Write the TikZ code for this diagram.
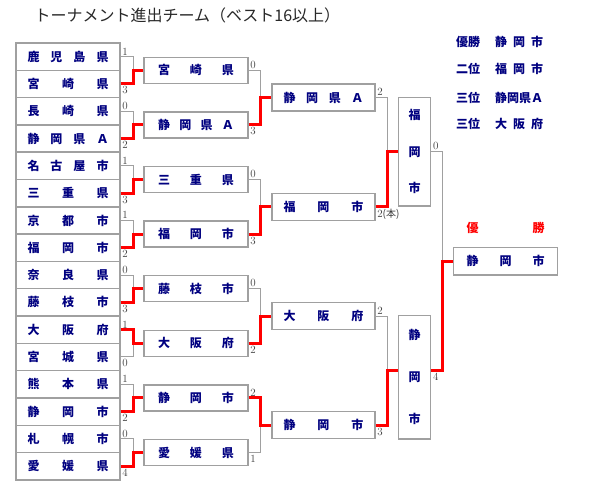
\documentclass[tikz,border=0pt]{standalone}
\usepackage{fontspec}
\newfontfamily\jp{Noto Sans CJK JP}
\definecolor{navy}{RGB}{0,0,128}
\definecolor{boxgray}{RGB}{160,160,160}
\definecolor{scoregray}{RGB}{60,60,60}
\definecolor{titlegray}{RGB}{40,40,40}
\newcommand\spr[2]{\hbox to #1{#2}}
\tikzset{
  namefont/.style={font=\jp\bfseries\fontsize{12}{12}\selectfont, text=navy},
  teambox/.style={draw=boxgray, line width=1.4pt, inner sep=0pt, namefont,
    minimum width=104pt, minimum height=27.3pt},
  r2box/.style={teambox, minimum width=104pt, minimum height=26pt},
  r3box/.style={teambox, minimum width=103pt, minimum height=27pt},
  conn/.style={draw=boxgray, line width=1pt},
  win/.style={draw=red, line width=3pt},
  score/.style={font=\fontsize{11}{11}\selectfont, text=scoregray, inner sep=0.6pt},
}
\begin{document}
\begin{tikzpicture}[x=1pt, y=-1pt]
\useasboundingbox (0,0) rectangle (600,500);
\fill[white] (0,0) rectangle (600,500);

% title
\node[anchor=west, font=\jp\fontsize{16}{16}\selectfont, text=titlegray] (title) at (31,15)
  {トーナメント進出チーム（ベスト16以上）};

% round 1
\foreach \n [count=\i from 0] in {
  {鹿\hfil 児\hfil 島\hfil 県},{宮\hfil 崎\hfil 県},{長\hfil 崎\hfil 県},{静\hfil 岡\hfil 県\hfil Ａ},
  {名\hfil 古\hfil 屋\hfil 市},{三\hfil 重\hfil 県},{京\hfil 都\hfil 市},{福\hfil 岡\hfil 市},
  {奈\hfil 良\hfil 県},{藤\hfil 枝\hfil 市},{大\hfil 阪\hfil 府},{宮\hfil 城\hfil 県},
  {熊\hfil 本\hfil 県},{静\hfil 岡\hfil 市},{札\hfil 幌\hfil 市},{愛\hfil 媛\hfil 県}}
  \node[teambox] (t\i) at (68,{43+27.3*(\i+0.5)}) {\spr{81pt}{\n}};

% round 2
\foreach \n [count=\i from 0] in {
  {宮\hfil 崎\hfil 県},{静\hfil 岡\hfil 県\hfil Ａ},{三\hfil 重\hfil 県},{福\hfil 岡\hfil 市},
  {藤\hfil 枝\hfil 市},{大\hfil 阪\hfil 府},{静\hfil 岡\hfil 市},{愛\hfil 媛\hfil 県}}
  \node[r2box] (r\i) at (196,{70.3+54.6*\i}) {\spr{76pt}{\n}};

% round 3
\foreach \n [count=\i from 0] in {
  {静\hfil 岡\hfil 県\hfil Ａ},{福\hfil 岡\hfil 市},{大\hfil 阪\hfil 府},{静\hfil 岡\hfil 市}}
  \node[r3box] (q\i) at (323.5,{97.6+109.2*\i}) {\spr{80pt}{\n}};

% semifinals
\node[draw=boxgray, line width=1.4pt, inner sep=0pt, minimum width=32.4pt, minimum height=108.7pt,
  align=center, font=\jp\bfseries\fontsize{12}{36.5}\selectfont, text=navy]
  (s1) at (414.5,151.7) {福\\岡\\市};
\node[draw=boxgray, line width=1.4pt, inner sep=0pt, minimum width=32.4pt, minimum height=123.3pt,
  align=center, font=\jp\bfseries\fontsize{12}{42}\selectfont, text=navy]
  (s2) at (414.5,377.3) {静\\岡\\市};
\coordinate (m2) at (0,370.6);

% final
\node[teambox, minimum width=104.4pt] (f) at (505.5,261.3) {\spr{78pt}{静\hfil 岡\hfil 市}};
\node[font=\jp\bfseries\fontsize{12}{12}\selectfont, text=red] (champ) at (505.5,228)
  {\spr{78pt}{優\hfil 勝}};

% legend
\foreach \l/\n/\y [count=\i] in {
  {優勝}/{静\hfil 岡\hfil 市}/41.7, {二位}/{福\hfil 岡\hfil 市}/69.3,
  {三位}/{静岡県Ａ}/98.3, {三位}/{大\hfil 阪\hfil 府}/124}{
  \node[anchor=west, namefont, inner sep=0pt] (lg\i) at (456,\y) {\l};
  \node[anchor=west, namefont, inner sep=0pt] (ln\i) at (495,\y) {\spr{48pt}{\n}};
}

% round 1 -> round 2
\foreach \a/\b/\r/\w/\sa/\sb in {0/1/0/1/1/3, 2/3/1/3/0/2, 4/5/2/5/1/3, 6/7/3/7/1/2,
  8/9/4/9/0/3, 10/11/5/10/1/0, 12/13/6/13/1/2, 14/15/7/15/0/4}{
  \draw[conn] (t\a.east) -- ++(13,0) |- (r\r.west);
  \draw[conn] (t\b.east) -- ++(13,0) |- (r\r.west);
  \draw[win] (t\w.east) -- ++(13,0) |- (r\r.west);
  \node[score, anchor=south west] at ([xshift=0.8pt,yshift=0.8pt]t\a.east) {\sa};
  \node[score, anchor=north west] at ([xshift=0.8pt,yshift=-1.8pt]t\b.east) {\sb};
}

% round 2 -> round 3
\foreach \a/\b/\r/\w/\sa/\sb in {0/1/0/1/0/3, 2/3/1/3/0/3, 4/5/2/5/0/2, 6/7/3/6/2/1}{
  \draw[conn] (r\a.east) -- ++(12,0) |- (q\r.west);
  \draw[conn] (r\b.east) -- ++(12,0) |- (q\r.west);
  \draw[win] (r\w.east) -- ++(12,0) |- (q\r.west);
  \node[score, anchor=south west] at ([xshift=0.8pt,yshift=0.8pt]r\a.east) {\sa};
  \node[score, anchor=north west] at ([xshift=0.8pt,yshift=-1.8pt]r\b.east) {\sb};
}

% round 3 -> semifinals
\draw[conn] (q0.east) -- ++(11.7,0) |- (s1.west);
\draw[conn] (q1.east) -- ++(11.7,0) |- (s1.west);
\draw[win] (q1.east) -- ++(11.7,0) |- (s1.west);
\draw[conn] (q2.east) -- ++(11.7,0) |- (s2.west |- m2);
\draw[conn] (q3.east) -- ++(11.7,0) |- (s2.west |- m2);
\draw[win] (q3.east) -- ++(11.7,0) |- (s2.west |- m2);
\node[score, anchor=south west] at ([xshift=0.8pt,yshift=0.8pt]q0.east) {2};
\node[score, anchor=north west] at ([xshift=0.8pt,yshift=-1.8pt]q1.east) {2{\jp\fontsize{10}{11}\selectfont (本)}};
\node[score, anchor=south west] at ([xshift=0.8pt,yshift=0.8pt]q2.east) {2};
\node[score, anchor=north west] at ([xshift=0.8pt,yshift=-1.8pt]q3.east) {3};

% semifinals -> final
\draw[conn] (s1.east) -- ++(11,0) |- (f.west);
\draw[conn] (s2.east |- m2) -- ++(11,0) |- (f.west);
\draw[win] (s2.east |- m2) -- ++(11,0) |- (f.west);
\node[score, anchor=south west] at ([xshift=0.8pt,yshift=0.8pt]s1.east) {0};
\node[score, anchor=north west] at ([xshift=0.8pt,yshift=-1.8pt]s2.east |- m2) {4};
\end{tikzpicture}
\end{document}
